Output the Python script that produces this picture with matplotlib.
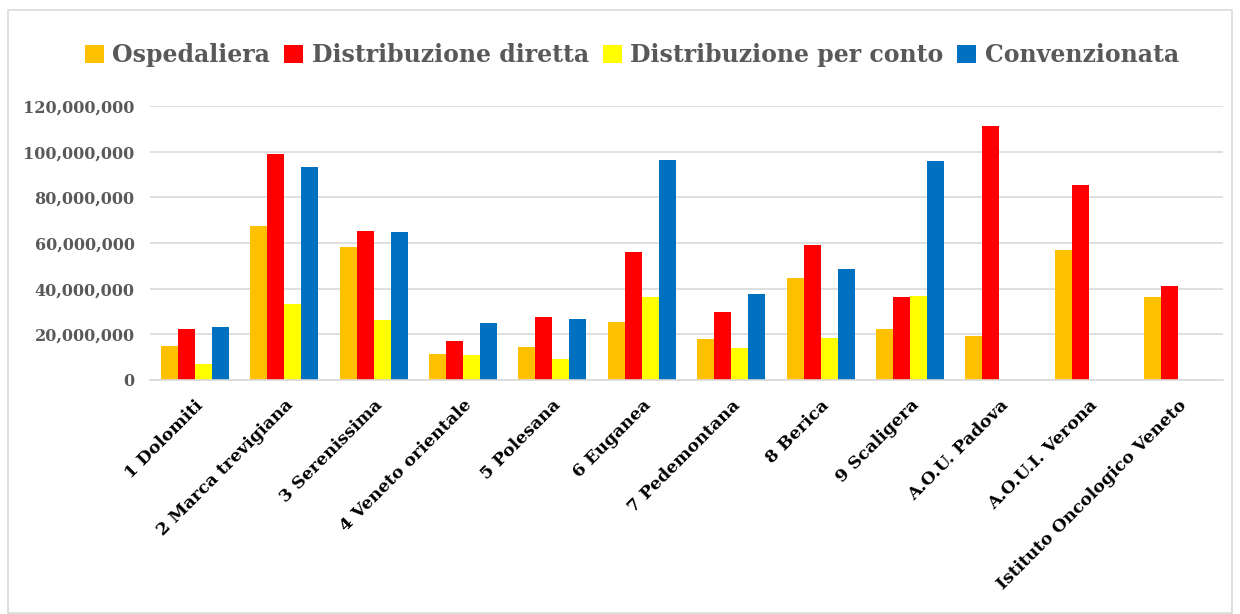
import numpy as np
import matplotlib.pyplot as plt
from matplotlib.patches import Rectangle
from matplotlib.ticker import FuncFormatter

categories = ['1 Dolomiti', '2 Marca trevigiana', '3 Serenissima', '4 Veneto orientale',
              '5 Polesana', '6 Euganea', '7 Pedemontana', '8 Berica', '9 Scaligera',
              'A.O.U. Padova', 'A.O.U.I. Verona', 'Istituto Oncologico Veneto']
series = ['Ospedaliera', 'Distribuzione diretta', 'Distribuzione per conto', 'Convenzionata']
ospedaliera = [14.9e6, 67.6e6, 58.1e6, 11.4e6, 14.6e6, 25.5e6, 17.8e6, 44.5e6, 22.3e6, 19.1e6, 56.9e6, 36.5e6]
diretta = [22.2e6, 98.8e6, 65.4e6, 17.2e6, 27.7e6, 55.9e6, 29.8e6, 59.0e6, 36.2e6, 111.3e6, 85.3e6, 41.0e6]
per_conto = [6.9e6, 33.3e6, 26.3e6, 10.9e6, 9.3e6, 36.2e6, 13.9e6, 18.5e6, 36.8e6, 0, 0, 0]
convenzionata = [23.3e6, 93.3e6, 64.7e6, 25.0e6, 26.6e6, 96.5e6, 37.7e6, 48.8e6, 95.9e6, 0, 0, 0]
colors = ['#FFC000', '#FF0000', '#FFFF00', '#0070C0']

plt.rcParams['font.family'] = ['DejaVu Serif']
plt.rcParams['font.weight'] = 'bold'

fig = plt.figure(figsize=(12.4, 6.14), dpi=100)
ax = fig.add_axes([150/1240, 1 - 380/614, (1223-150)/1240, (380-106)/614])

x = np.arange(len(categories))
w = 0.19
data = [ospedaliera, diretta, per_conto, convenzionata]
for i, (vals, c, lab) in enumerate(zip(data, colors, series)):
    ax.bar(x + (i - 1.5) * w, vals, w, color=c, label=lab)

ax.set_xlim(-0.5, len(categories) - 0.5)
ax.set_ylim(0, 120e6)
ax.set_yticks(np.arange(0, 120e6 + 1, 20e6))
ax.yaxis.set_major_formatter(FuncFormatter(lambda v, p: f'{v:,.0f}'))
ax.grid(axis='y', color='#d9d9d9', linewidth=1.2)
ax.set_axisbelow(True)
for s in ['top', 'right', 'left']:
    ax.spines[s].set_visible(False)
ax.spines['bottom'].set_color('#d9d9d9')
ax.spines['bottom'].set_linewidth(1.2)
ax.tick_params(length=0)
ax.tick_params(axis='y', labelsize=11.5, labelcolor='#595959', pad=11)
ax.set_xticks(x)
ax.set_xticklabels(categories, rotation=45, ha='right', rotation_mode='anchor',
                   fontsize=12.5, color='black')
ax.tick_params(axis='x', pad=12)

fig.legend(loc='center', bbox_to_anchor=(632/1240, 1 - 55/614), ncol=4, frameon=False,
           fontsize=17, labelcolor='#595959', handlelength=0.8, handleheight=0.8,
           handletextpad=0.35, columnspacing=0.6)

fig.patches.append(Rectangle((8/1240, 0.002), 1224/1240, 1 - 10/614 - 0.002, transform=fig.transFigure,
                             fill=False, edgecolor='#d9d9d9', linewidth=1.2))

fig.savefig('out.png', dpi=100, facecolor='white')
